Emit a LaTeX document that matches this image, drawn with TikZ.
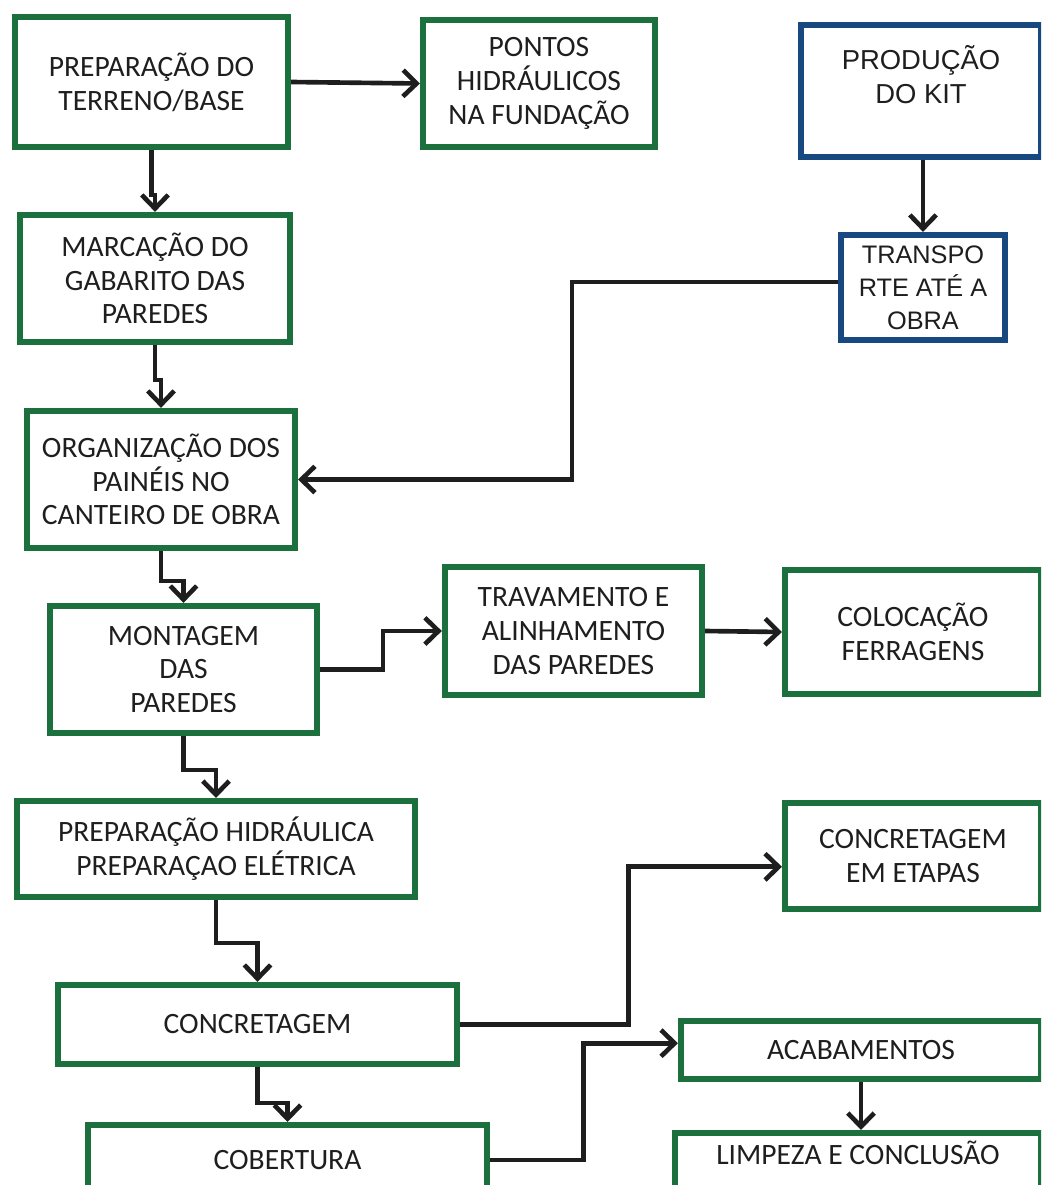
\documentclass[tikz,border=0pt]{standalone}
\usepackage{fontspec}
\newfontfamily\carlito{Carlito}
\newfontfamily\arial{Liberation Sans}
\usetikzlibrary{arrows.meta}
\definecolor{verde}{RGB}{28,112,62}
\definecolor{azul}{RGB}{24,72,128}
\definecolor{tinta}{RGB}{30,30,30}
\tikzset{
  >={Straight Barb[length=3.4mm,width=6.6mm]},
}
\tikzstyle{etapa}=[draw=verde,line width=4.3pt,fill=white,align=center,text=tinta,font=\carlito\fontsize{21}{24}\selectfont]
\tikzstyle{kit}=[etapa,draw=azul,font=\arial\fontsize{19.5}{23.5}\selectfont]
\tikzstyle{seta}=[tinta,line width=3.3pt,->]

\begin{document}
\begin{tikzpicture}[x=0.025cm,y=-0.025cm]
    \useasboundingbox (0,0) rectangle (1041,1185);
    \clip (0,0) rectangle (1041,1185);
    \node[etapa,minimum width=6.83cm,minimum height=3.25cm] (prep) at (151.5,82) {PREPARAÇÃO DO\\TERRENO/BASE};
    \node[etapa,minimum width=5.8cm,minimum height=3.18cm] (pontos) at (539,83.5) {PONTOS\\HIDRÁULICOS\\NA FUNDAÇÃO};
    \node[kit,minimum width=6cm,minimum height=3.3cm] (producao) at (921,91) {PRODUÇÃO\\DO KIT\\\mbox{}};
    \node[kit,minimum width=4.1cm,minimum height=2.63cm,font=\arial\fontsize{18}{23.5}\selectfont] (transporte) at (923,287.5) {TRANSPO\\RTE ATÉ A\\OBRA};
    \node[etapa,minimum width=6.75cm,minimum height=3.18cm] (marcacao) at (155,278.5) {MARCAÇÃO DO\\GABARITO DAS\\PAREDES};
    \node[etapa,minimum width=6.7cm,minimum height=3.43cm] (organizacao) at (161,479.5) {ORGANIZAÇÃO DOS\\PAINÉIS NO\\CANTEIRO DE OBRA};
    \node[etapa,minimum width=6.68cm,minimum height=3.18cm] (montagem) at (183.5,669.5) {MONTAGEM\\DAS\\PAREDES};
    \node[etapa,minimum width=6.43cm,minimum height=3.2cm] (travamento) at (573.5,631) {TRAVAMENTO E\\ALINHAMENTO\\DAS PAREDES};
    \node[etapa,minimum width=6.4cm,minimum height=3.1cm] (ferragens) at (913,632) {COLOCAÇÃO\\FERRAGENS};
    \node[etapa,minimum width=9.95cm,minimum height=2.4cm] (hidraulica) at (216,849) {PREPARAÇÃO HIDRÁULICA\\PREPARAÇAO ELÉTRICA};
    \node[etapa,minimum width=6.4cm,minimum height=2.65cm] (etapas) at (913,856) {CONCRETAGEM\\EM ETAPAS};
    \node[etapa,minimum width=9.98cm,minimum height=1.98cm] (concretagem) at (257.5,1024.5) {CONCRETAGEM};
    \node[etapa,minimum width=9cm,minimum height=1.45cm] (acabamentos) at (861,1050) {ACABAMENTOS};
    \node[etapa,minimum width=9.98cm,minimum height=1.75cm] (cobertura) at (287.5,1160) {COBERTURA};
    \node[etapa,minimum width=9.15cm,minimum height=1.5cm] (limpeza) at (858,1163) {LIMPEZA E CONCLUSÃO\\[-10pt]\mbox{}};

    \draw[seta] (prep.east) -- (pontos.west);
    \draw[seta] (prep.south) -- ++(0,45) -| (marcacao.north);
    \draw[seta] (marcacao.south) -- ++(0,35) -| (organizacao.north);
    \draw[seta] (organizacao.south) -- ++(0,30) -| (montagem.north);
    \draw[seta] (montagem.east) -- ++(63,0) |- (travamento.west);
    \draw[seta] (travamento.east) -- (ferragens.west);
    \draw[seta] (montagem.south) -- ++(0,34) -| (hidraulica.north);
    \draw[seta] (hidraulica.south) -- ++(0,43) -| (concretagem.north);
    \draw[seta] (concretagem.east) -- ++(168,0) |- ([yshift=-0.27cm]etapas.west);
    \draw[seta] (concretagem.south) -- ++(0,36) -| (cobertura.north);
    \draw[seta] (cobertura.east) -- ++(93,0) |- ([yshift=0.17cm]acabamentos.west);
    \draw[seta] (acabamentos.south) -- (acabamentos.south |- limpeza.north);
    \draw[seta] (transporte.north |- producao.south) -- (transporte.north);
    \draw[seta] ([yshift=0.14cm]transporte.west) -- ++(-266,0) |- (organizacao.east);
\end{tikzpicture}
\end{document}
